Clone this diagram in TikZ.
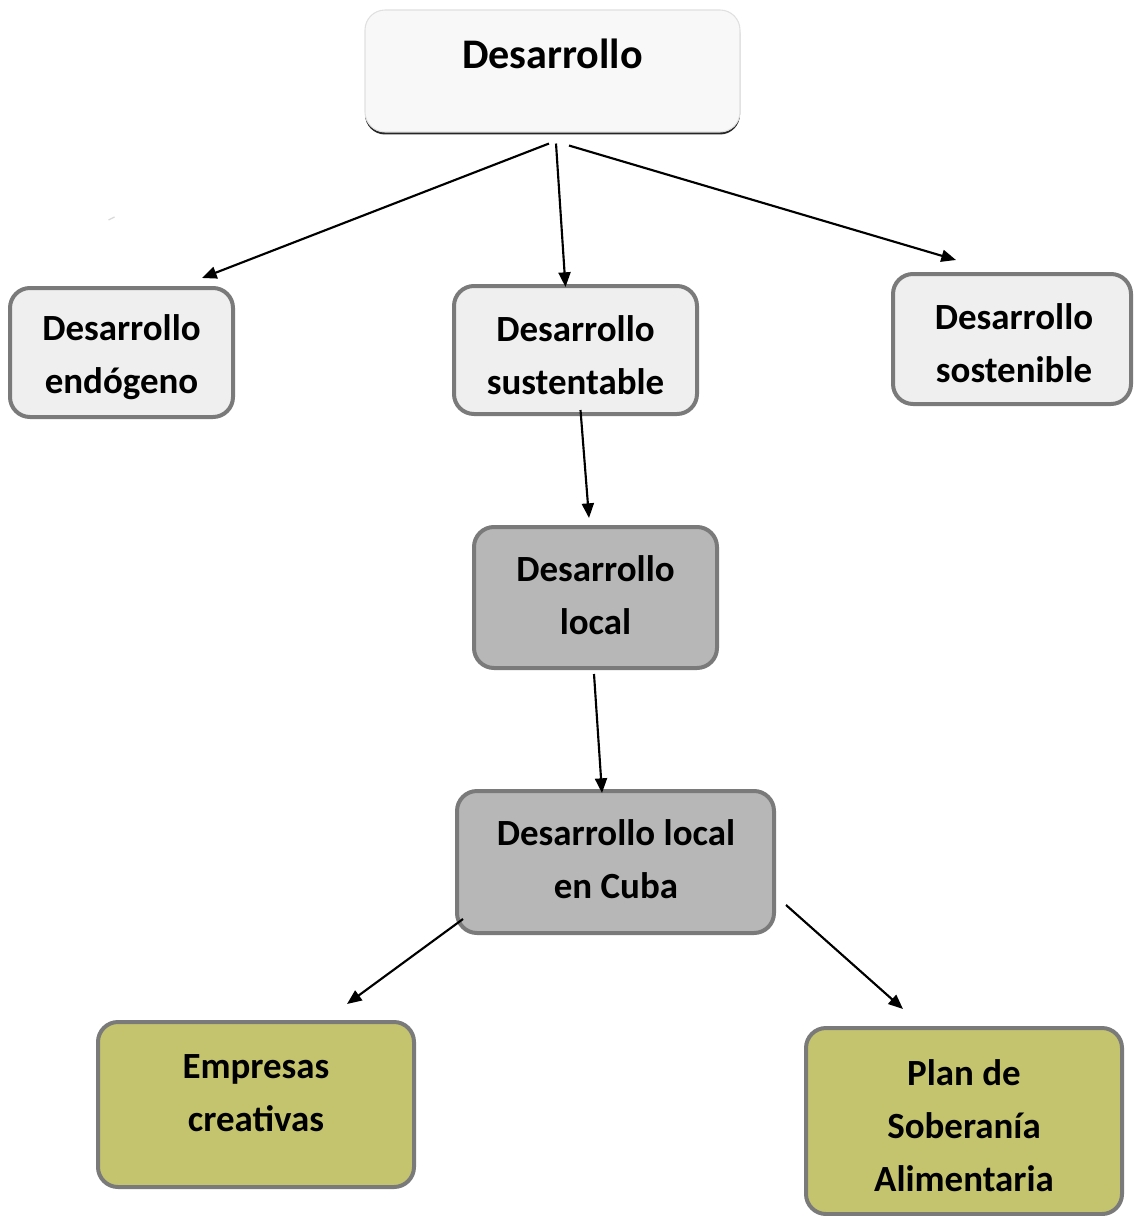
\documentclass[tikz,border=0pt]{standalone}
\usepackage{fontspec}
\setmainfont{Carlito}
\usetikzlibrary{arrows.meta,calc}
\definecolor{lightbox}{HTML}{EFEFEF}
\definecolor{topbox}{HTML}{F8F8F8}
\definecolor{boxborder}{HTML}{7A7A7A}
\definecolor{midgray}{HTML}{B7B7B7}
\definecolor{olive}{HTML}{C5C46E}
\tikzset{
  box/.style={draw=boxborder, line width=3pt, rounded corners=15pt, inner sep=0pt},
  lightb/.style={box, fill=lightbox},
  grayb/.style={box, fill=midgray},
  oliveb/.style={box, fill=olive},
  txt/.style={inner sep=0pt, align=center, font=\fontsize{27.7}{39.75}\selectfont\bfseries},
  arr/.style={line width=1.6pt, -{Triangle[length=11pt,width=9pt]}}
}
\begin{document}
\begin{tikzpicture}[x=0.75pt,y=-0.75pt]
\useasboundingbox (0,0) rectangle (1133,1216);
% top box with dark bottom shadow
\node[fill=black!85, rounded corners=15pt, minimum width=281.25pt, minimum height=91.5pt, inner sep=0pt] (topsh) at (552.5,73.5) {};
\node[fill=topbox, draw=black!12, line width=0.8pt, rounded corners=15pt, minimum width=281.25pt, minimum height=91.5pt, inner sep=0pt] (top) at (552.5,71) {};
\node[txt, font=\fontsize{31.6}{38}\selectfont\bfseries] (topL) at (552.5,54) {Desarrollo};

\node[lightb, minimum width=167.25pt, minimum height=96.75pt] (endo) at (121.5,352.5) {};
\node[txt] (endoL) at (121.5,357) {Desarrollo\\endógeno};
\node[lightb, minimum width=182.25pt, minimum height=96pt] (sust) at (575.5,350) {};
\node[txt] (sustL) at (575.5,355) {Desarrollo\\sustentable};
\node[lightb, minimum width=178.5pt, minimum height=97.5pt] (sost) at (1012,339) {};
\node[txt] (sostL) at (1014,343) {Desarrollo\\sostenible};
\node[grayb, minimum width=182.25pt, minimum height=105.75pt] (loc) at (595.5,597.5) {};
\node[txt] (locL) at (595.5,595.5) {Desarrollo\\local};
\node[grayb, minimum width=237.75pt, minimum height=106.5pt] (cuba) at (615.5,862) {};
\node[txt] (cubaL) at (616,859) {Desarrollo local\\en Cuba};
\node[oliveb, minimum width=237pt, minimum height=123.75pt] (emp) at (256,1104.5) {};
\node[txt] (empL) at (256,1093) {Empresas\\creativas};
\node[oliveb, minimum width=237pt, minimum height=139.5pt] (plan) at (964,1121) {};
\node[txt] (planL) at (964,1125.5) {Plan de\\Soberanía\\Alimentaria};

% faint artifact mark
\draw[black!15, line width=1pt] ($(endo.north)+(-13,-66)$) -- ($(endo.north)+(-7,-69)$);

\draw[arr] ($(top.south)+(-3.5,11)$) -- ($(endo.north east)+(-33,-8)$);
\draw[arr] ($(top.south)+(3.5,11)$) -- ($(sust.north)+(-10,3)$);
\draw[arr] ($(top.south)+(16.5,13)$) -- ($(sost.north west)+(65,-12)$);
\draw[arr] ($(sust.south)+(5,-6)$) -- ($(loc.north)+(-6.5,-7)$);
\draw[arr] ($(loc.south)+(-1.5,4)$) -- ($(cuba.north)+(-13.5,4)$);
\draw[arr] ($(cuba.south west)+(8,-16)$) -- ($(emp.north)+(91,-16)$);
\draw[arr] ($(cuba.east)+(10,43)$) -- ($(plan.north)+(-61,-17)$);
\end{tikzpicture}
\end{document}
